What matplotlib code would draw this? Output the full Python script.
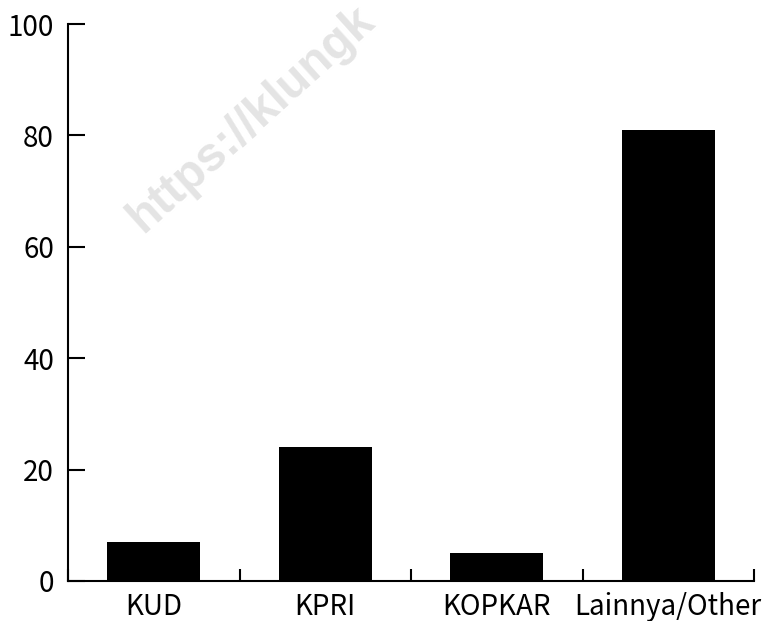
import matplotlib
matplotlib.use("Agg")
import matplotlib.pyplot as plt
import numpy as np

categories = ["KUD", "KPRI", "KOPKAR", "Lainnya/Other"]
values = [7, 24, 5, 81]
yticks = [0, 20, 40, 60, 80, 100]

plt.rcParams['font.family'] = ['Noto Sans CJK JP', 'DejaVu Sans']

fig = plt.figure(figsize=(7.66, 6.21), dpi=100)
ax = fig.add_axes([68/766, 40/621, (754-68)/766, (581-24)/621])

x = np.arange(len(categories))
ax.bar(x, values, width=0.54, color='black', zorder=2)

ax.set_xlim(-0.5, len(categories) - 0.5)
ax.set_ylim(0, 100)
ax.set_yticks(yticks)
ax.set_yticklabels([str(v) for v in yticks], fontsize=20)

ax.set_xticks(x)
ax.set_xticklabels(categories, fontsize=20)
ax.set_xticks(np.arange(len(categories) + 1) - 0.5, minor=True)
ax.tick_params(axis='x', which='major', length=0, pad=8)
ax.tick_params(axis='x', which='minor', direction='in', length=9, width=1.5)
ax.tick_params(axis='y', direction='in', length=12, width=1.5, pad=10)

for s in ['top', 'right']:
    ax.spines[s].set_visible(False)
for s in ['left', 'bottom']:
    ax.spines[s].set_linewidth(1.5)

fig.text(143/766, 1 - 234/621, "https://klungk", rotation=42,
         rotation_mode='anchor', ha='left', va='baseline',
         fontsize=34.5, fontweight='bold', color='#e4e4e4',
         family='Liberation Sans', zorder=0)

fig.savefig("out.png", dpi=100)
